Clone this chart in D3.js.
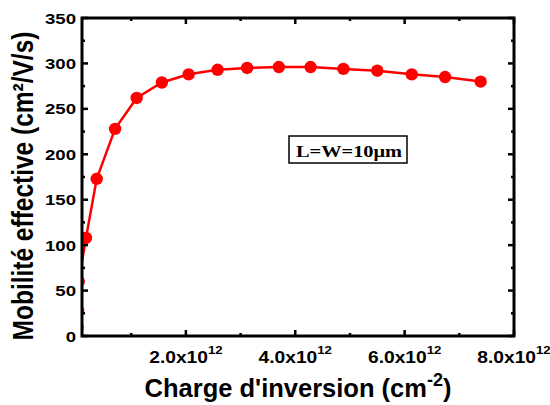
<!DOCTYPE html>
<html><head><meta charset="utf-8">
<script src="https://cdn.jsdelivr.net/npm/d3@7"></script>
<style>body{margin:0;background:#fff}svg{display:block}</style>
</head><body>
<svg id="c" width="550" height="405"></svg>
<script>
// data (x in units of 1e12 cm^-2)
const charge = [0.02, 0.03, 0.04, 0.173, 0.369, 0.705, 1.10, 1.56, 2.05, 2.58, 3.12, 3.70, 4.28, 4.88, 5.50, 6.13, 6.74, 7.39];
const mobility = [9, 28, 60, 108, 173, 228, 262, 279, 288, 293, 295, 296, 296, 294, 292, 288, 285, 280];
const xTicks = [2, 4, 6, 8];
const yTicks = [0, 50, 100, 150, 200, 250, 300, 350];
const legendText = "L=W=10μm";

const svg = d3.select("#c");
const L = 82, R = 514, T = 18, B = 336;
const SX = 1.2; // horizontal stretch of the original figure's text
const x = d3.scaleLinear().domain([0.1, 8]).range([L, R]);
const y = d3.scaleLinear().domain([0, 350]).range([B, T]);

svg.append("defs").append("clipPath").attr("id","clip")
  .append("rect").attr("x",L).attr("y",T).attr("width",R-L).attr("height",B-T);

const g = svg.append("g").attr("clip-path","url(#clip)");
const pts = charge.map((c,i)=>[c, mobility[i]]);
g.append("path").datum(pts)
  .attr("d", d3.line().x(d=>x(d[0])).y(d=>y(d[1])))
  .attr("fill","none").attr("stroke","#ff0000").attr("stroke-width",2.5);
g.selectAll("circle").data(pts).join("circle")
  .attr("cx",d=>x(d[0])).attr("cy",d=>y(d[1])).attr("r",6.2).attr("fill","#ff0000");

// frame
svg.append("rect").attr("x",L).attr("y",T).attr("width",R-L).attr("height",B-T)
  .attr("fill","none").attr("stroke","#000").attr("stroke-width",3);

// ticks
const tk = svg.append("g").attr("stroke","#000").attr("stroke-width",2.5);
const xMin = [1,3,5,7];
xTicks.forEach(v=>{ tk.append("line").attr("x1",x(v)).attr("x2",x(v)).attr("y1",B).attr("y2",B-6);
                  tk.append("line").attr("x1",x(v)).attr("x2",x(v)).attr("y1",T).attr("y2",T+6);});
xMin.forEach(v=>{ tk.append("line").attr("x1",x(v)).attr("x2",x(v)).attr("y1",B).attr("y2",B-3);
                  tk.append("line").attr("x1",x(v)).attr("x2",x(v)).attr("y1",T).attr("y2",T+3);});
d3.range(0,351,25).forEach(v=>{
  const len = v%50===0 ? 6 : 3;
  tk.append("line").attr("x1",L).attr("x2",L+len).attr("y1",y(v)).attr("y2",y(v));
  tk.append("line").attr("x1",R).attr("x2",R-len).attr("y1",y(v)).attr("y2",y(v));
});

const font = "Liberation Sans, Arial, sans-serif";
// y tick labels
svg.append("g").selectAll("text").data(yTicks).join("text")
  .attr("transform",d=>`translate(76,${y(d)+5.5}) scale(${SX},1)`).attr("text-anchor","end")
  .attr("font-family",font).attr("font-weight","bold").attr("font-size",15.5)
  .text(d=>d);
// x tick labels
const xl = svg.append("g").selectAll("text").data(xTicks).join("text")
  .attr("transform",d=>`translate(${x(d)},363) scale(${SX},1)`).attr("text-anchor","middle")
  .attr("font-family",font).attr("font-weight","bold").attr("font-size",16);
xl.append("tspan").text(d=>d.toFixed(1)+"x10");
xl.append("tspan").attr("dy",-9).attr("font-size",11).text("12");

// axis titles
const xt = svg.append("text").attr("x",298).attr("y",397).attr("text-anchor","middle")
  .attr("font-family",font).attr("font-weight","bold").attr("font-size",25.5);
xt.append("tspan").text("Charge d'inversion (cm");
xt.append("tspan").attr("dy",-11).attr("font-size",18).text("-2");
xt.append("tspan").attr("dy",11).text(")");

svg.append("text").attr("transform","translate(33,186) rotate(-90) scale(1,1.2)").attr("text-anchor","middle")
  .attr("font-family",font).attr("font-weight","bold").attr("font-size",24.5)
  .text("Mobilité effective (cm²/V/s)");

// legend box
svg.append("rect").attr("x",289).attr("y",136).attr("width",118).attr("height",27)
  .attr("fill","#fff").attr("stroke","#000").attr("stroke-width",1.5);
svg.append("text").attr("transform",`translate(349,157) scale(${SX},1)`).attr("text-anchor","middle")
  .attr("font-family","Liberation Serif, Times New Roman, serif").attr("font-weight","bold").attr("font-size",17)
  .text(legendText);
</script>
</body></html>
